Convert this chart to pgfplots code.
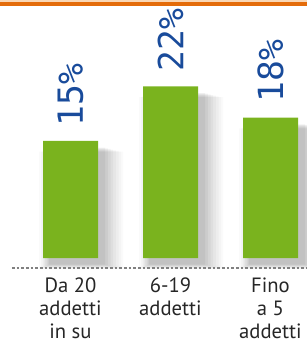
\documentclass[border=0pt]{standalone}
\usepackage{pgfplots}
\usepackage{pgfplotstable}
\pgfplotsset{compat=1.18}
\usepackage{fontspec}
\setmainfont{PT Sans}
\newfontfamily\pctfont{DejaVu Sans Mono}
\definecolor{bargreen}{RGB}{122,179,30}
\definecolor{orangeline}{RGB}{228,108,10}
\definecolor{peach}{RGB}{250,215,180}
\definecolor{pctblue}{RGB}{25,75,155}
\pgfplotstableread{
x y
0 15
1 22
2 18
}\datatable
\newcommand\shadowlayer[3]{\addplot[forget plot, fill=black, draw=none, fill opacity=#3, bar width=#1, xshift=#2, yshift=-#2] table[x=x,y=y] {\datatable};}
\begin{document}
\begin{tikzpicture}
\begin{axis}[
  scale only axis, width=230.25pt, height=198pt,
  xmin=-0.705, xmax=2.365, ymin=-1.28, ymax=32.56,
  axis line style={draw=none}, ytick=\empty,
  xtick={0,1,2},
  xticklabels={{Da 20\\addetti\\in su},{6-19\\addetti},{Fino\\a 5\\addetti}},
  major tick length=0pt,
  xticklabel style={align=center, font=\fontsize{15.5}{17.5}\selectfont, text=black!85, inner sep=0pt, yshift=-7pt, anchor=north},
  clip=false,
  ybar, bar width=0.55,
  /pgf/number format/assume math mode=true,
  every node near coord/.append style={rotate=90, anchor=west, font=\pctfont\fontsize{26}{26}\selectfont, text=pctblue, inner xsep=11pt, inner ysep=0pt},
]
\shadowlayer{0.84}{8pt}{0.018}
\shadowlayer{0.80}{8pt}{0.022}
\shadowlayer{0.76}{7.5pt}{0.026}
\shadowlayer{0.72}{7pt}{0.03}
\shadowlayer{0.68}{6.5pt}{0.034}
\shadowlayer{0.64}{6pt}{0.038}
\shadowlayer{0.60}{5.5pt}{0.042}
\shadowlayer{0.56}{5pt}{0.046}
\addplot[fill=bargreen, draw=none, nodes near coords={\pgfmathprintnumber{\pgfplotspointmeta}\%}] table[x=x,y=y] {\datatable};
\fill[peach] (rel axis cs:0,1) rectangle ([yshift=3pt]rel axis cs:1,1);
\draw[orangeline, line width=2.6pt] (rel axis cs:0,1) -- (rel axis cs:1,1);
\draw[gray, dash pattern=on 2pt off 1.5pt, line width=0.8pt] (rel axis cs:0.039,0) -- (rel axis cs:1,0);
\end{axis}
\pgfresetboundingbox
\path[use as bounding box] ([yshift=-56.25pt]current axis.south west) rectangle ([yshift=3pt]current axis.north east);
\end{tikzpicture}
\end{document}
